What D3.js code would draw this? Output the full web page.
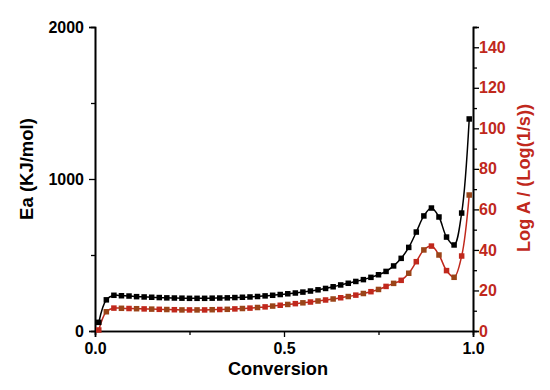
<!DOCTYPE html>
<html><head><meta charset="utf-8">
<script src="https://cdn.jsdelivr.net/npm/d3@7"></script>
<style>
body{margin:0;background:#fff;}
svg{display:block;font-family:Arial,"Liberation Sans",sans-serif;font-weight:bold;}
</style></head>
<body><svg id="c" width="550" height="390"></svg>
<script>
const conversion = [0.01,0.03,0.05,0.07,0.09,0.11,0.13,0.15,0.17,0.19,0.21,0.23,0.25,0.27,0.29,0.31,0.33,0.35,0.37,0.39,0.41,0.43,0.45,0.47,0.49,0.51,0.53,0.55,0.57,0.59,0.61,0.63,0.65,0.67,0.69,0.71,0.73,0.75,0.77,0.79,0.81,0.83,0.85,0.87,0.89,0.91,0.93,0.95,0.97,0.99];
const ea = [57,205,235,232,230,226,224,222,220,218,217,216,215,215,215,216,217,218,220,222,224,227,231,235,240,245,250,256,263,271,280,291,303,314,326,338,353,370,392,428,478,550,651,757,809,750,618,566,776,1395];
const logA = [0.5,9.5,11.3,11.2,11.1,11.0,10.9,10.8,10.7,10.6,10.5,10.4,10.4,10.4,10.4,10.5,10.6,10.7,10.9,11.1,11.3,11.6,11.9,12.3,12.7,13.1,13.5,13.9,14.3,14.8,15.3,15.8,16.4,17.0,17.7,18.5,19.4,20.5,22.0,23.5,25.0,28.5,34.2,40.0,41.9,37.5,29.8,26.5,37.0,67.1];
const xTicks = [0, 0.5, 1.0];
const eaTicks = [0, 1000, 2000];
const logATicks = [0,20,40,60,80,100,120,140];

const svg = d3.select("#c");
const L=95, R=473, T=27, B=331;
const x = d3.scaleLinear().domain([0,1]).range([L,R]);
const yL = d3.scaleLinear().domain([0,2000]).range([B,T]);
const yR = d3.scaleLinear().domain([0,150]).range([B,T]);
const red = "#c0281c";

// bottom axis
const gx = svg.append("g").attr("transform",`translate(0,${B})`);
gx.call(d3.axisBottom(x).tickValues([0.25,0.75]).tickSize(4).tickFormat(""));
gx.append("g").call(d3.axisBottom(x).tickValues(xTicks).tickSize(6).tickFormat(d3.format(".1f")));
// left axis
const gl = svg.append("g").attr("transform",`translate(${L},0)`);
gl.call(d3.axisLeft(yL).tickValues([500,1500]).tickSize(4).tickFormat(""));
gl.append("g").call(d3.axisLeft(yL).tickValues(eaTicks).tickSize(6).tickFormat(d3.format("d")));
// right axis
const gr = svg.append("g").attr("transform",`translate(${R},0)`);
gr.call(d3.axisRight(yR).tickValues([10,30,50,70,90,110,130,150]).tickSize(4).tickFormat(""));
gr.append("g").attr("class","rt").call(d3.axisRight(yR).tickValues(logATicks).tickSize(6).tickPadding(0).tickFormat(d3.format("d")));

svg.selectAll("g").attr("font-family",null);
svg.selectAll(".domain").attr("stroke","#000").attr("stroke-width",1.6);
svg.selectAll(".tick line").attr("stroke","#000").attr("stroke-width",1.3);
svg.selectAll(".tick text").style("font-size","16px").style("font-weight","bold").attr("fill","#000");
gx.selectAll(".tick text").attr("dy","0.9em");
gl.selectAll(".tick text").attr("dx","-2");
gr.selectAll(".rt .tick text").attr("fill",red);

// titles
svg.append("text").attr("x",278).attr("y",375).attr("text-anchor","middle")
  .style("font-size","18.2px").text("Conversion");
svg.append("text").attr("transform","translate(33,169) rotate(-90)").attr("text-anchor","middle")
  .style("font-size","18.5px").text("Ea (KJ/mol)");
svg.append("text").attr("transform","translate(530,178) rotate(-90)").attr("text-anchor","middle")
  .style("font-size","18.2px").attr("fill",red).text("Log A / (Log(1/s))");

const blackData = conversion.map((c,i)=>[c,ea[i]]);
const redData = conversion.map((c,i)=>[c,logA[i]]);
const curve = d3.curveCatmullRom.alpha(0.5);

svg.append("path").datum(redData).attr("fill","none").attr("stroke",red).attr("stroke-width",1.5)
  .attr("d",d3.line().x(d=>x(d[0])).y(d=>yR(d[1])).curve(curve));
svg.append("path").datum(blackData).attr("fill","none").attr("stroke","#000").attr("stroke-width",1.5)
  .attr("d",d3.line().x(d=>x(d[0])).y(d=>yL(d[1])).curve(curve));

const s=5.5;
svg.append("g").selectAll("rect").data(redData).join("rect")
  .attr("x",d=>x(d[0])-s/2).attr("y",d=>yR(d[1])-s/2).attr("width",s).attr("height",s)
  .attr("fill",(d,i)=>i%2?"#9a4418":red);
svg.append("g").selectAll("rect").data(blackData).join("rect")
  .attr("x",d=>x(d[0])-s/2).attr("y",d=>yL(d[1])-s/2).attr("width",s).attr("height",s)
  .attr("fill","#000");
</script></body></html>
